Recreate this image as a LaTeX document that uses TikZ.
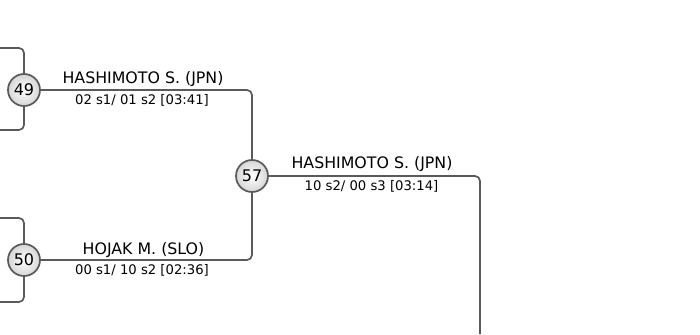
\documentclass[tikz,border=0pt]{standalone}
\usepackage{fontspec}
\setmainfont{DejaVu Sans}
\usetikzlibrary{calc}
\definecolor{wiregray}{HTML}{5A5A5A}
\definecolor{discgray}{HTML}{D6D6D6}

\begin{document}
\begin{tikzpicture}[x=1pt,y=-1pt]
                \tikzstyle{every node}+=[inner sep=0pt]
                \tikzstyle{bout}=[circle, draw=wiregray, line width=1.7pt, minimum size=32pt, inner color=white, outer color=discgray, font=\fontsize{16}{17}\selectfont]
                \tikzstyle{wire}=[draw=wiregray, line width=1.7pt, rounded corners=5pt]
                \tikzstyle{athlete}=[anchor=base, font=\fontsize{15.8}{17}\selectfont]
                \tikzstyle{result}=[anchor=base, font=\fontsize{13.2}{14}\selectfont]
                \useasboundingbox (0,0) rectangle (700,334);
                % bouts
                \node [bout] (b49) at (24,90) {49};
                \node [bout] (b50) at (24,260) {50};
                \node [bout] (b57) at (252,176) {57};
                % open ends
                \coordinate (in49a) at (0,48);
                \coordinate (in49b) at (0,130);
                \coordinate (in50a) at (0,218);
                \coordinate (in50b) at (0,302);
                \coordinate (out57) at (480,334);
                % connectors
                \draw [wire] (in49a) -| (b49);
                \draw [wire] (in49b) -| (b49);
                \draw [wire] (in50a) -| (b50);
                \draw [wire] (in50b) -| (b50);
                \draw [wire] (b49) -| (b57);
                \draw [wire] (b50) -| (b57);
                \draw [wire] (b57) -| (out57);
                % winners and scores
                \node [athlete] (w49) at (143,84) {HASHIMOTO S. (JPN)};
                \node [result] (r49) at (142,104) {02 s1/ 01 s2 [03:41]};
                \node [athlete] (w50) at (143.5,254) {HOJAK M. (SLO)};
                \node [result] (r50) at (142,274) {00 s1/ 10 s2 [02:36]};
                \node [athlete] (w57) at (372,168) {HASHIMOTO S. (JPN)};
                \node [result] (r57) at (371.5,190) {10 s2/ 00 s3 [03:14]};
\end{tikzpicture}
\end{document}
